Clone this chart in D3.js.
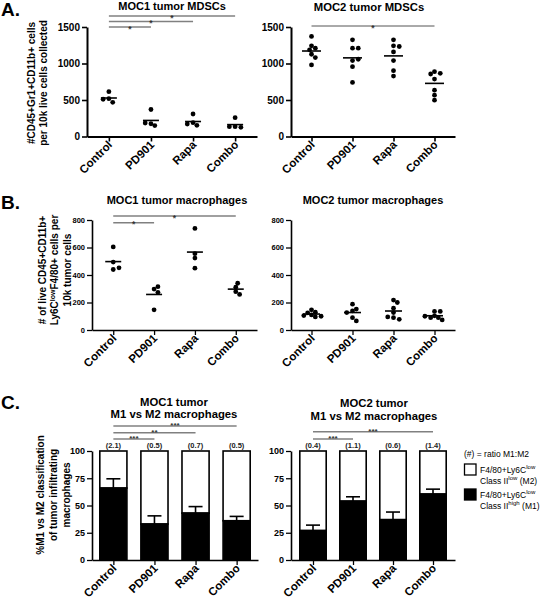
<!DOCTYPE html>
<html><head><meta charset="utf-8">
<script src="https://cdn.jsdelivr.net/npm/d3@7"></script>
<style>
body{margin:0;background:#fff}
svg{display:block}
text{font-family:"Liberation Sans",Arial,sans-serif}
</style>
</head><body>
<svg id="chart" width="544" height="598"></svg>
<script>
// ---------------- DATA ----------------
const categories = ["Control", "PD901", "Rapa", "Combo"];

// A. MDSCs (#CD45+Gr1+CD11b+ cells per 10k live cells)
const moc1Mdsc = [
  [614, 518, 468, 510],
  [370, 175, 150, 185],
  [308, 189, 153, 171],
  [258, 134, 126, 134]
];
const moc2Mdsc = [
  [1371, 1242, 1210, 1187, 1127, 1081, 980],
  [1325, 1210, 1210, 1040, 1058, 957, 741],
  [1325, 1242, 1233, 1159, 1040, 902, 828],
  [888, 865, 856, 787, 635, 566, 497]
];
const mdscTicks = [0, 500, 1000, 1500];

// B. Macrophages (# per 10k tumor cells)
const moc1Mac = [
  [604, 494, 440, 452],
  [298, 274, 315, 147],
  [739, 555, 523, 450],
  [311, 340, 279, 259]
];
const moc2Mac = [
  [147, 130, 125, 110, 95, 105, 100],
  [188, 139, 152, 127, 90, 66],
  [218, 200, 159, 127, 90, 78, 95],
  [135, 135, 103, 90, 90, 73, 100]
];
const macTicks = [0, 200, 400, 600, 800];

// C. % M1 (black) vs M2 (white), error = SEM on M1
const moc1M1 = [66, 33, 43, 36];
const moc1M1Err = [8.5, 7.5, 6, 4];
const moc1Ratio = ["(2.1)", "(0.5)", "(0.7)", "(0.5)"];
const moc2M1 = [27, 54, 37, 60.5];
const moc2M1Err = [5, 4, 7, 4.5];
const moc2Ratio = ["(0.4)", "(1.1)", "(0.6)", "(1.4)"];
const pctTicks = [0, 25, 50, 75, 100];

// significance brackets: [from, to, label]
const sigMoc1Mdsc = [["Control", "Combo", "*"], ["Control", "Rapa", "*"], ["Control", "PD901", "*"]];
const sigMoc2Mdsc = [["Control", "Combo", "*"]];
const sigMoc1Mac = [["Control", "Combo", "*"], ["Control", "PD901", "*"]];
const sigMoc1Pct = [["Control", "Combo", "***"], ["Control", "Rapa", "**"], ["Control", "PD901", "***"]];
const sigMoc2Pct = [["Control", "Combo", "***"], ["Control", "PD901", "***"]];

// ---------------- DRAW ----------------
const svg = d3.select("#chart");
const FONT = "'Liberation Sans', Arial, sans-serif";

function makeScales(L, max) {
  const x = d3.scalePoint().domain(categories).range([L.ax, L.ae]).padding(L.pad || 0.52);
  const y = d3.scaleLinear().domain([0, max]).range([L.y0, L.yt]);
  return {x, y};
}

function drawAxes(L, x, y, ticks, tickFont, axisW) {
  const g = svg.append("g");
  const ya = g.append("g").attr("transform", `translate(${L.ax},0)`)
    .call(d3.axisLeft(y).tickValues(ticks).tickSize(5).tickSizeOuter(0).tickPadding(2).tickFormat(d3.format("d")));
  g.append("g").attr("transform", `translate(0,${L.y0})`)
    .call(d3.axisBottom(x).tickSize(5).tickSizeOuter(0).tickFormat(""));
  g.selectAll(".domain").attr("stroke", "#000").attr("stroke-width", axisW);
  g.selectAll(".tick line").attr("stroke", "#000").attr("stroke-width", axisW * 0.8);
  ya.selectAll("text").attr("font-family", FONT).attr("font-weight", "bold")
    .attr("font-size", tickFont).attr("fill", "#000");
  g.selectAll(".cat").data(categories).join("text")
    .attr("transform", d => `translate(${x(d) + 4},${L.y0 + 9}) rotate(-45)`)
    .attr("text-anchor", "end")
    .attr("font-family", FONT).attr("font-weight", "bold").attr("font-size", 11.5)
    .text(d => d);
}

function drawTitle(lines, cx, ys, size) {
  lines.forEach((t, i) => {
    svg.append("text").attr("x", cx).attr("y", ys[i]).attr("text-anchor", "middle")
      .attr("font-family", FONT).attr("font-weight", "bold").attr("font-size", size || 11.5)
      .text(t);
  });
}

function drawSig(x, sigs, ys, color, width, fsize, dy) {
  sigs.forEach((s, i) => {
    const x1 = x(s[0]), x2 = x(s[1]), yy = ys[i];
    svg.append("line").attr("x1", x1).attr("x2", x2).attr("y1", yy).attr("y2", yy)
      .attr("stroke", color).attr("stroke-width", width);
    svg.append("text").attr("x", (x1 + x2) / 2).attr("y", yy + dy)
      .attr("text-anchor", "middle").attr("font-family", FONT).attr("font-weight", "bold")
      .attr("font-size", fsize).attr("fill", "#333").text(s[2]);
  });
}

function swarm(vals, y, r) {
  const placed = [];
  const step = r * 0.8;
  return vals.map(v => {
    const cy = y(v);
    let dx = 0;
    for (let k = 0; k < 30; k++) {
      const cand = k === 0 ? 0 : (k % 2 ? 1 : -1) * Math.ceil(k / 2) * step;
      if (placed.every(p => Math.hypot(p.dx - cand, p.cy - cy) >= 1.75 * r)) { dx = cand; break; }
    }
    placed.push({dx, cy});
    return {v, cy, dx};
  });
}

function drawScatter(L, data, max, ticks, tickFont, axisW, meanHalf) {
  const {x, y} = makeScales(L, max);
  drawAxes(L, x, y, ticks, tickFont, axisW);
  const r = 2.4;
  categories.forEach((c, i) => {
    const pts = swarm(data[i], y, r);
    svg.append("g").selectAll("circle").data(pts).join("circle")
      .attr("cx", d => x(c) + d.dx).attr("cy", d => d.cy).attr("r", r).attr("fill", "#000");
    const m = d3.mean(data[i]);
    svg.append("line").attr("x1", x(c) - meanHalf).attr("x2", x(c) + meanHalf)
      .attr("y1", y(m)).attr("y2", y(m)).attr("stroke", "#000").attr("stroke-width", 1.6);
  });
  return {x, y};
}

function drawBars(L, m1, err, ratio) {
  const {x, y} = makeScales(L, 100);
  drawAxes(L, x, y, pctTicks, 9, 1.6);
  const bw = x.step() * 0.66;
  categories.forEach((c, i) => {
    const cx = x(c);
    svg.append("rect").attr("x", cx - bw / 2).attr("y", y(100)).attr("width", bw)
      .attr("height", y(m1[i]) - y(100)).attr("fill", "#fff").attr("stroke", "#000").attr("stroke-width", 1.6);
    svg.append("rect").attr("x", cx - bw / 2).attr("y", y(m1[i])).attr("width", bw)
      .attr("height", y(0) - y(m1[i])).attr("fill", "#000").attr("stroke", "#000").attr("stroke-width", 1.6);
    const et = y(m1[i] + err[i]);
    svg.append("line").attr("x1", cx).attr("x2", cx).attr("y1", y(m1[i])).attr("y2", et)
      .attr("stroke", "#000").attr("stroke-width", 1.6);
    svg.append("line").attr("x1", cx - 7).attr("x2", cx + 7).attr("y1", et).attr("y2", et)
      .attr("stroke", "#000").attr("stroke-width", 1.6);
    svg.append("text").attr("x", cx).attr("y", y(100) - 3).attr("text-anchor", "middle")
      .attr("font-family", FONT).attr("font-weight", "bold").attr("font-size", 7.5).attr("fill", "#222")
      .text(ratio[i]);
  });
  return {x, y};
}

function yLabel(lines, xs, cy, size) {
  lines.forEach((ln, i) => {
    const t = svg.append("text").attr("transform", `translate(${xs[i]},${cy}) rotate(-90)`)
      .attr("text-anchor", "middle").attr("font-family", FONT).attr("font-weight", "bold")
      .attr("font-size", size);
    ln.forEach(seg => {
      const ts = t.append("tspan").text(seg.t);
      if (seg.sup) ts.attr("font-size", size * 0.7).attr("dy", -size * 0.35);
      if (seg.after) ts.attr("font-size", size).attr("dy", size * 0.35);
    });
  });
}

function panelLetter(t, y) {
  svg.append("text").attr("x", 1).attr("y", y).attr("font-family", FONT).attr("font-weight", "bold")
    .attr("font-size", 19).text(t);
}

// ---- Panel A ----
const LA1 = {ax: 87, ae: 257, y0: 136.5, yt: 27};
const LA2 = {ax: 291, ae: 455, y0: 136.5, yt: 27, pad: 0.5};
panelLetter("A.", 16);
const a1 = drawScatter(LA1, moc1Mdsc, 1500, mdscTicks, 10, 2, 8);
drawSig(a1.x, sigMoc1Mdsc, [16, 21.5, 27], "#808080", 1.5, 8.5, 4.5);
drawTitle(["MOC1 tumor MDSCs"], 172, [10], 11);
const a2 = drawScatter(LA2, moc2Mdsc, 1500, mdscTicks, 10, 2, 9.5);
drawSig(a2.x, sigMoc2Mdsc, [26], "#555", 1, 8.5, 4.5);
drawTitle(["MOC2 tumor MDSCs"], 369, [11], 11.3);
yLabel([[{t: "#CD45+Gr1+CD11b+ cells"}], [{t: "per 10k live cells collected"}]], [35, 47], 83, 10);

// ---- Panel B ----
const LB1 = {ax: 92, ae: 257, y0: 330, yt: 220};
const LB2 = {ax: 291, ae: 455, y0: 330, yt: 220, pad: 0.5};
panelLetter("B.", 209);
const b1 = drawScatter(LB1, moc1Mac, 800, macTicks, 7.5, 1.6, 8);
drawSig(b1.x, sigMoc1Mac, [216, 222.7], "#808080", 1.5, 8.5, 4.5);
drawTitle(["MOC1 tumor macrophages"], 177, [203.5], 11);
drawScatter(LB2, moc2Mac, 800, macTicks, 7.5, 1.6, 8.5);
drawTitle(["MOC2 tumor macrophages"], 373, [204], 11);
yLabel([
  [{t: "# of live CD45+CD11b+"}],
  [{t: "Ly6C"}, {t: "low", sup: true}, {t: "F4/80+ cells per", after: true}],
  [{t: "10k tumor cells"}]
], [45.5, 58, 71], 270, 10);

// ---- Panel C ----
const LC1 = {ax: 92, ae: 258, y0: 560, yt: 451};
const LC2 = {ax: 291, ae: 455, y0: 560, yt: 451, pad: 0.55};
panelLetter("C.", 409);
const c1 = drawBars(LC1, moc1M1, moc1M1Err, moc1Ratio);
drawSig(c1.x, sigMoc1Pct, [426, 432.7, 439], "#808080", 1.5, 8, 1.8);
drawTitle(["MOC1 tumor", "M1 vs M2 macrophages"], 174, [405.5, 418], 11.3);
const c2 = drawBars(LC2, moc2M1, moc2M1Err, moc2Ratio);
drawSig(c2.x, sigMoc2Pct, [431.7, 439], "#808080", 1.5, 8, 1.8);
drawTitle(["MOC2 tumor", "M1 vs M2 macrophages"], 374, [406.5, 419.5], 11.3);
yLabel([[{t: "%M1 vs M2 classification"}], [{t: "of tumor infiltrating"}], [{t: "macrophages"}]], [44, 57, 70], 495, 10);

// legend
const leg = svg.append("g").attr("font-family", FONT).attr("font-size", 8.5);
leg.append("text").attr("x", 464).attr("y", 457).text("(#) = ratio M1:M2");
const legendItems = [
  {fill: "#fff", l1: ["F4/80+Ly6C", "low", ""], l2: ["Class II", "low", " (M2)"], y: 464},
  {fill: "#000", l1: ["F4/80+Ly6C", "low", ""], l2: ["Class II", "high", " (M1)"], y: 489}
];
legendItems.forEach(it => {
  leg.append("rect").attr("x", 464.5).attr("y", it.y).attr("width", 11.5).attr("height", 11)
    .attr("fill", it.fill).attr("stroke", "#000").attr("stroke-width", 1.3);
  [[it.l1, it.y + 8.5], [it.l2, it.y + 19.5]].forEach(([parts, yy]) => {
    const t = leg.append("text").attr("x", 480).attr("y", yy);
    t.append("tspan").text(parts[0]);
    t.append("tspan").attr("font-size", 6).attr("dy", -3.5).text(parts[1]);
    if (parts[2]) t.append("tspan").attr("font-size", 8.5).attr("dy", 3.5).text(parts[2]);
  });
});
</script>
</body></html>
